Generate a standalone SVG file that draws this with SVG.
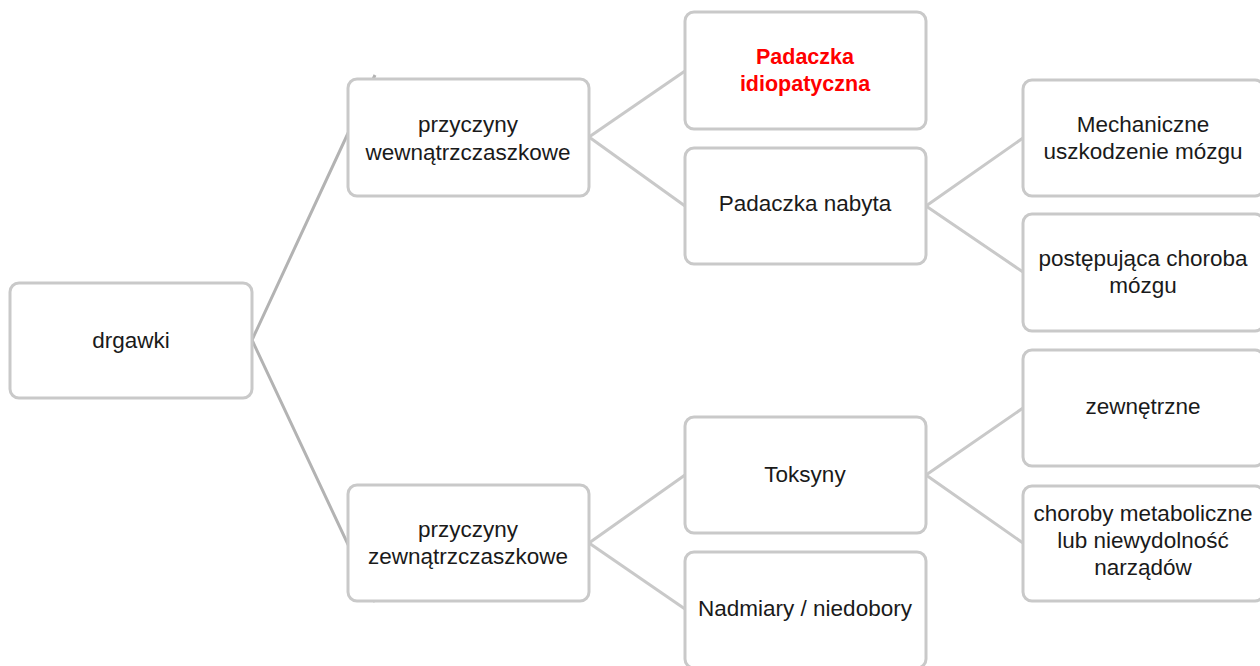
<svg xmlns="http://www.w3.org/2000/svg" width="1260" height="666" viewBox="0 0 1260 666">
  <style>
    .box { fill: #ffffff; stroke: #c9c9c9; stroke-width: 3; }
    .lbl { font-family: "Liberation Sans", "DejaVu Sans", sans-serif; font-size: 22.5px; fill: #1a1a1a; text-anchor: middle; }
    .hot { font-weight: bold; font-size: 21.5px; fill: #ff0000; }
    .link { stroke: #c9c9c9; stroke-width: 3; fill: none; }
    .trunk { stroke: #b3b3b3; stroke-width: 3; fill: none; }
  </style>
  <rect width="1260" height="666" fill="#ffffff"/>

  <g id="connectors">
    <path class="trunk" d="M252 340 L375 75 M252 340 L375 602"/>
    <path class="link" d="M589 137 L685 71 M589 137 L685 206"/>
    <path class="link" d="M589 543 L685 475 M589 543 L685 609"/>
    <path class="link" d="M926 206 L1023 138 M926 206 L1023 272"/>
    <path class="link" d="M926 475 L1023 408 M926 475 L1023 543"/>
  </g>

  <g id="drgawki">
    <rect class="box" x="10" y="283" width="242" height="115" rx="9"/>
    <text class="lbl" x="131" y="348">drgawki</text>
  </g>

  <g id="wewnatrzczaszkowe">
    <rect class="box" x="348" y="79" width="241" height="117" rx="9"/>
    <text class="lbl" x="468" y="132">przyczyny</text>
    <text class="lbl" x="468" y="160">wewnątrzczaszkowe</text>
  </g>

  <g id="zewnatrzczaszkowe">
    <rect class="box" x="348" y="485" width="241" height="116" rx="9"/>
    <text class="lbl" x="468" y="537">przyczyny</text>
    <text class="lbl" x="468" y="564">zewnątrzczaszkowe</text>
  </g>

  <g id="idiopatyczna">
    <rect class="box" x="685" y="12" width="241" height="117" rx="9"/>
    <text class="lbl hot" x="805" y="64">Padaczka</text>
    <text class="lbl hot" x="805" y="91">idiopatyczna</text>
  </g>

  <g id="nabyta">
    <rect class="box" x="685" y="148" width="241" height="116" rx="9"/>
    <text class="lbl" x="805" y="211">Padaczka nabyta</text>
  </g>

  <g id="toksyny">
    <rect class="box" x="685" y="417" width="241" height="116" rx="9"/>
    <text class="lbl" x="805" y="482">Toksyny</text>
  </g>

  <g id="nadmiary">
    <rect class="box" x="685" y="552" width="241" height="116" rx="9"/>
    <text class="lbl" x="805" y="616">Nadmiary / niedobory</text>
  </g>

  <g id="mechaniczne">
    <rect class="box" x="1023" y="80" width="241" height="116" rx="9"/>
    <text class="lbl" x="1143" y="132">Mechaniczne</text>
    <text class="lbl" x="1143" y="159">uszkodzenie mózgu</text>
  </g>

  <g id="postepujaca">
    <rect class="box" x="1023" y="214" width="241" height="117" rx="9"/>
    <text class="lbl" x="1143" y="266">postępująca choroba</text>
    <text class="lbl" x="1143" y="293">mózgu</text>
  </g>

  <g id="zewnetrzne">
    <rect class="box" x="1023" y="350" width="241" height="116" rx="9"/>
    <text class="lbl" x="1143" y="414">zewnętrzne</text>
  </g>

  <g id="metaboliczne">
    <rect class="box" x="1023" y="486" width="241" height="115" rx="9"/>
    <text class="lbl" x="1143" y="521">choroby metaboliczne</text>
    <text class="lbl" x="1143" y="548">lub niewydolność</text>
    <text class="lbl" x="1143" y="575">narządów</text>
  </g>
</svg>
